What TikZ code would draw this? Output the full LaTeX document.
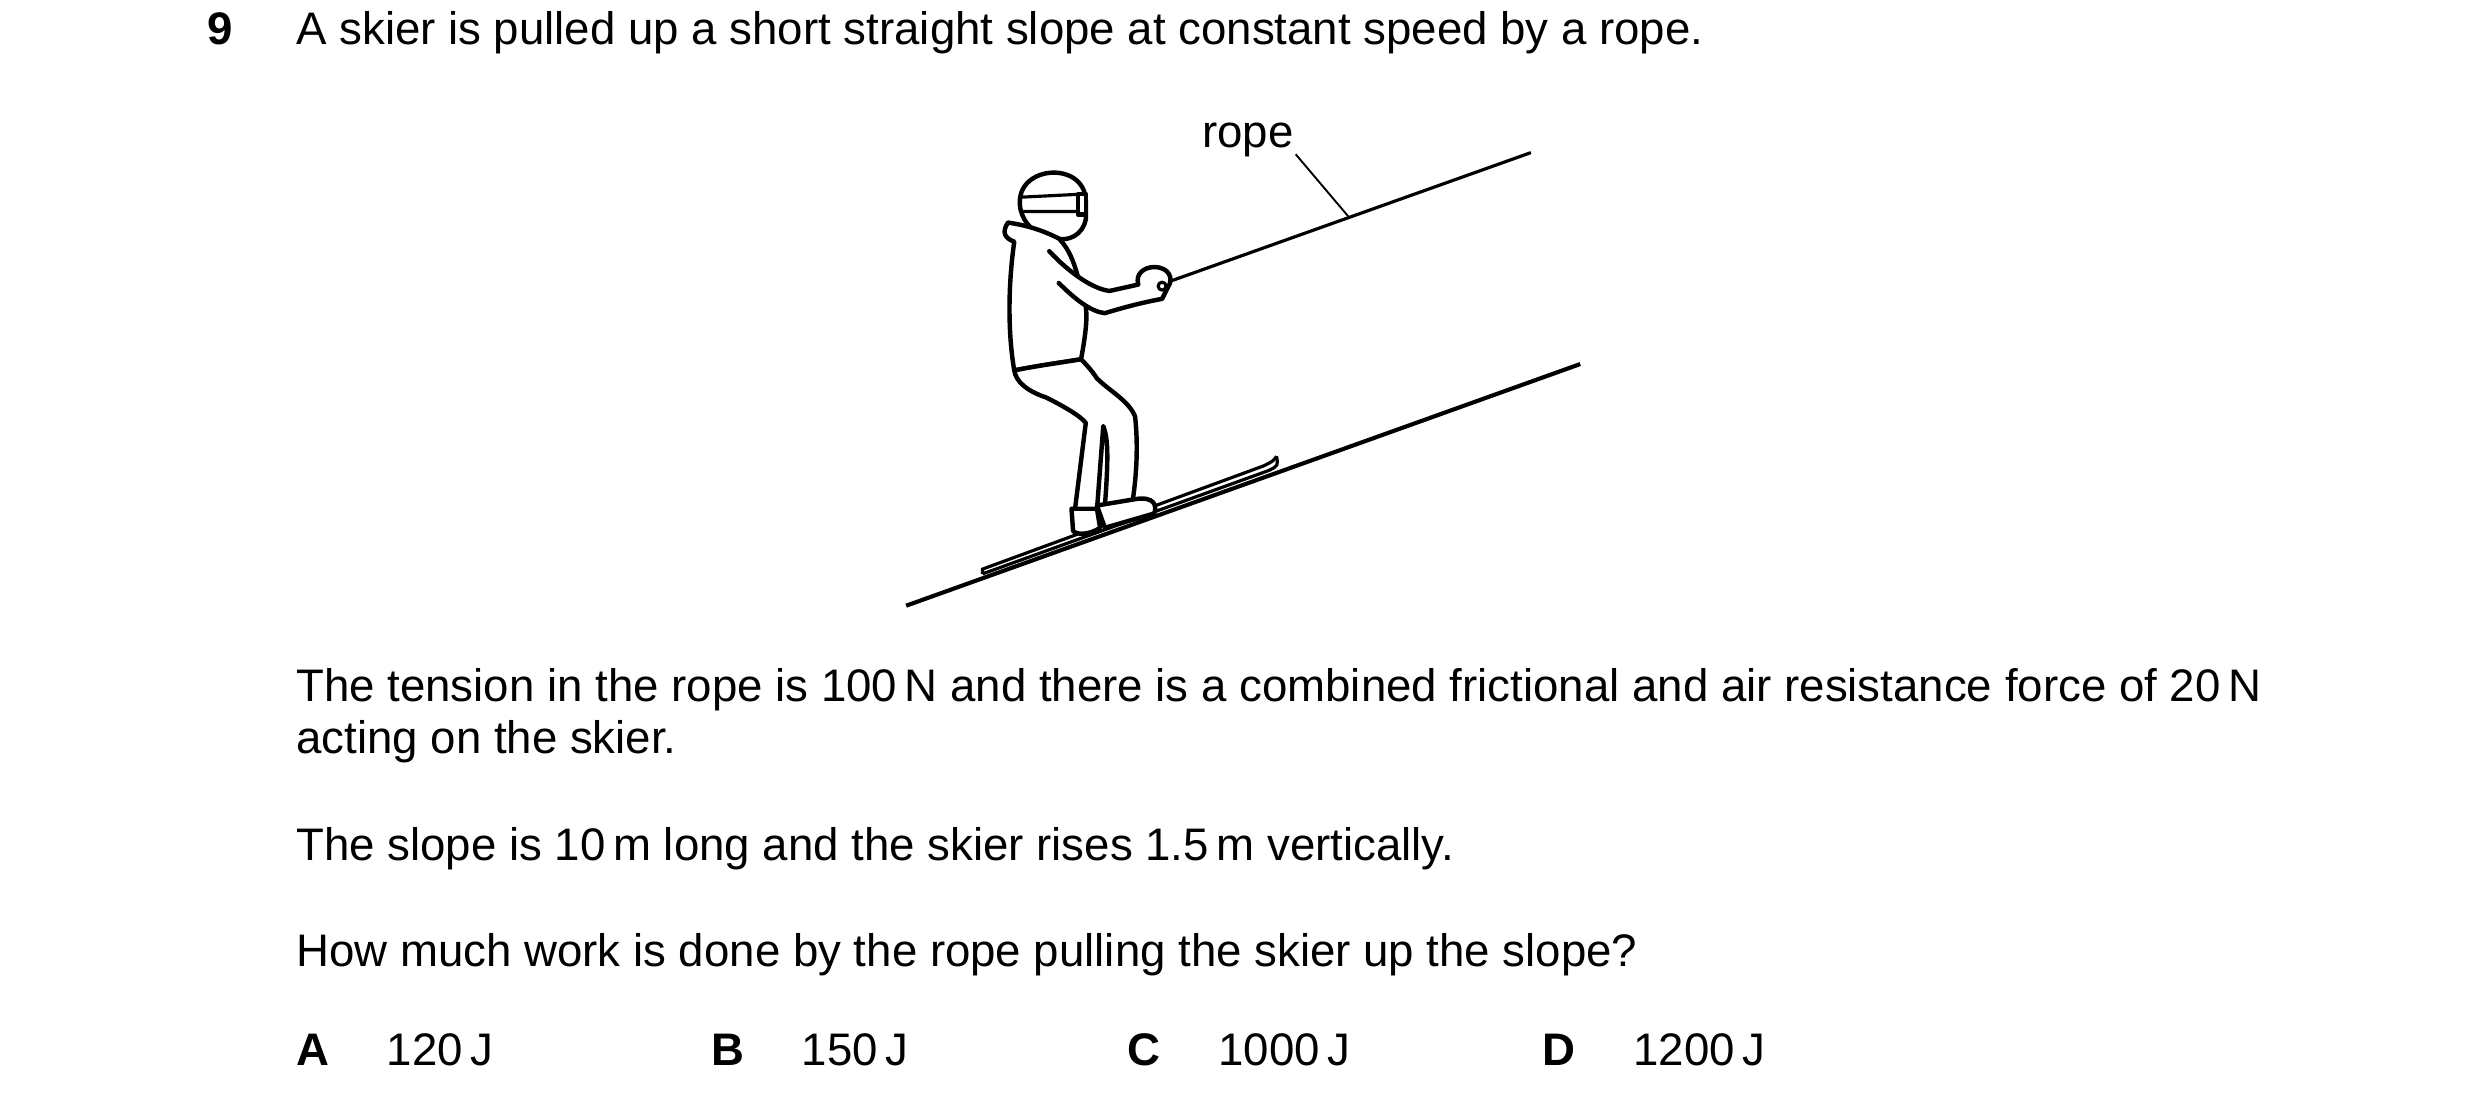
\documentclass[tikz,border=0pt]{standalone}
\usepackage{fontspec}
\setmainfont{Liberation Sans}
\begin{document}
\begin{tikzpicture}[x=0.5bp,y=-0.5bp,
    txt/.style={anchor=base west,inner sep=0pt,font=\fontsize{14.4}{16}\selectfont},
    body/.style={line width=1.4pt,line join=round,line cap=round}]
                \useasboundingbox (0,0) rectangle (1560,693);

                % question text
                \node[txt,font=\fontsize{14.4}{16}\selectfont\bfseries] (num) at (130,28) {9};
                \node[txt] (q) at (186,28) {A skier is pulled up a short straight slope at constant speed by a rope.};
                \node[txt] (p1) at (186,441) {The tension in the rope is 100\,N and there is a combined frictional and air resistance force of 20\,N};
                \node[txt] (p1b) at (186,474) {acting on the skier.};
                \node[txt] (p2) at (186,541) {The slope is 10\,m long and the skier rises 1.5\,m vertically.};
                \node[txt] (p3) at (186,608) {How much work is done by the rope pulling the skier up the slope?};

                % answers
                \node[txt,font=\fontsize{14.4}{16}\selectfont\bfseries] (A) at (186,670) {A};
                \node[txt] (Aval) at (243,670) {120\,J};
                \node[txt,font=\fontsize{14.4}{16}\selectfont\bfseries] (B) at (447,670) {B};
                \node[txt] (Bval) at (504,670) {150\,J};
                \node[txt,font=\fontsize{14.4}{16}\selectfont\bfseries] (C) at (709,670) {C};
                \node[txt] (Cval) at (766,670) {1000\,J};
                \node[txt,font=\fontsize{14.4}{16}\selectfont\bfseries] (D) at (970,670) {D};
                \node[txt] (Dval) at (1027,670) {1200\,J};

                % slope and rope
                \coordinate (slopeL) at (570,381);
                \coordinate (slopeR) at (994,229);
                \draw[line width=1.3pt] (slopeL) -- (slopeR);
                \coordinate (hand) at (733,178);
                \coordinate (ropeR) at (963,96);
                \draw[line width=1pt] (hand) -- (ropeR);
                \node[txt,anchor=base] (lbl) at (785,93) {rope};
                \coordinate (leader) at (848,136);
                \draw[line width=0.6pt] (815,97) -- (leader);

                % ski
                \draw[line width=1pt] (618,361) -- (618,358) -- (795,293)
                    .. controls (801,290) .. (803,287);
                \draw[line width=1pt] (618,361) -- (798,296) .. controls (804,293) .. (803,287);

                % skier
                \filldraw[body,fill=white] (642,132) .. controls (636,104) and (682,100) .. (683,126)
                    -- (683,138) .. controls (681,148) and (672,152) .. (664,150)
                    .. controls (650,148) and (644,140) .. (642,132) -- cycle;
                \draw[body,line width=1pt] (643,124) -- (683,122) (644,133) -- (683,133);
                \draw[body,fill=white] (683,122) rectangle (678,135);
                \draw[body,fill=white] (634,140) .. controls (630,146) and (632,150) .. (638,152)
                    .. controls (634,180) and (634,210) .. (638,233)
                    .. controls (653,230) and (668,228) .. (680,226)
                    .. controls (683,210) and (684,200) .. (683,193)
                    .. controls (678,175) and (676,160) .. (666,150)
                    .. controls (658,146) and (648,142) .. (634,140) -- cycle;
                % arm
                \draw[body,fill=white] (660,158) .. controls (673,172) and (688,182) .. (698,183)
                    -- (716,179) .. controls (714,172) and (720,168) .. (726,168)
                    .. controls (736,168) and (738,176) .. (735,180)
                    -- (731,188) .. controls (720,190) and (708,193) .. (695,197)
                    .. controls (686,196) and (676,188) .. (666,178);
                \draw[body,line width=1pt] (731,180) circle (2.5);
                % legs
                \draw[body,fill=white] (638,233) .. controls (639,240) and (646,246) .. (658,250)
                    .. controls (670,256) and (680,262) .. (683,266)
                    -- (676,322) -- (690,321) -- (694,268)
                    .. controls (696,274) and (698,280) .. (695,318)
                    -- (712,318) .. controls (715,300) and (716,280) .. (714,262)
                    .. controls (710,252) and (698,246) .. (690,238)
                    .. controls (686,232) and (682,228) .. (680,226)
                    .. controls (668,228) and (653,230) .. (638,233) -- cycle;
                % boots
                \filldraw[body,fill=white] (674,320) -- (690,320) -- (692,332)
                    .. controls (686,336) and (678,337) .. (675,334) -- cycle;
                \filldraw[body,fill=white] (690,318) -- (714,314)
                    .. controls (726,312) and (728,318) .. (726,323)
                    -- (695,332) -- cycle;
            \end{tikzpicture}
\end{document}
